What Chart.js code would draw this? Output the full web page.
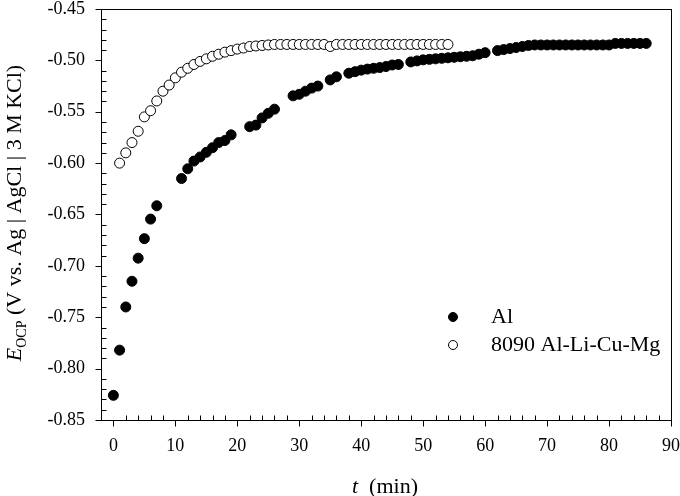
<!DOCTYPE html>
<html>
<head>
<meta charset="utf-8">
<script src="https://cdn.jsdelivr.net/npm/chart.js@4"></script>
<style>
  body { margin: 0; background: #fff; }
  #wrap { width: 680px; height: 496px; }
</style>
</head>
<body>
<div id="wrap"><canvas id="ocp" width="680" height="496"></canvas></div>
<script>
// Al (filled circles)
const alTime = [0, 1, 2, 3, 4, 5, 6, 7,
  11, 12, 13, 14, 15, 16, 17, 18, 19,
  22, 23, 24, 25, 26,
  29, 30, 31, 32, 33, 35, 36,
  38, 39, 40, 41, 42, 43, 44, 45, 46,
  48, 49, 50, 51, 52, 53, 54, 55, 56, 57, 58, 59, 60,
  62, 63, 64, 65, 66, 67, 68, 69, 70, 71, 72, 73, 74, 75, 76, 77, 78, 79, 80,
  81, 82, 83, 84, 85, 86];
const alPotential = [-0.826, -0.782, -0.740, -0.715, -0.6925, -0.6735, -0.6545, -0.6415,
  -0.615, -0.6055, -0.598, -0.594, -0.5895, -0.585, -0.580, -0.578, -0.5725,
  -0.5645, -0.563, -0.556, -0.5515, -0.5475,
  -0.5345, -0.533, -0.530, -0.527, -0.525, -0.519, -0.516,
  -0.5125, -0.511, -0.5095, -0.5085, -0.5077, -0.507, -0.506, -0.5045, -0.504,
  -0.5015, -0.5005, -0.4995, -0.499, -0.4985, -0.498, -0.4975, -0.497, -0.4965, -0.496, -0.4955, -0.494, -0.4925,
  -0.4905, -0.4895, -0.4885, -0.4875, -0.4865, -0.4855, -0.485, -0.485, -0.485, -0.485, -0.485, -0.485, -0.485, -0.485, -0.485, -0.485, -0.485, -0.485, -0.485,
  -0.4835, -0.4835, -0.4835, -0.4835, -0.4835, -0.4835];

// 8090 Al-Li-Cu-Mg (open circles)
const alloyTime = [1, 2, 3, 4, 5, 6, 7, 8, 9, 10, 11, 12, 13, 14, 15, 16, 17, 18, 19, 20,
  21, 22, 23, 24, 25, 26, 27, 28, 29, 30, 31, 32, 33, 34, 35, 36, 37, 38, 39, 40,
  41, 42, 43, 44, 45, 46, 47, 48, 49, 50, 51, 52, 53, 54];
const alloyPotential = [-0.600, -0.590, -0.580, -0.569, -0.555, -0.549, -0.5395, -0.530, -0.524, -0.517,
  -0.5115, -0.5077, -0.504, -0.501, -0.4985, -0.496, -0.494, -0.492, -0.4905, -0.489,
  -0.488, -0.4865, -0.486, -0.4855, -0.485, -0.4845, -0.4845, -0.4845, -0.4845, -0.4845,
  -0.4845, -0.4845, -0.4845, -0.4845, -0.4865, -0.4845, -0.4845, -0.4845, -0.4845, -0.4845,
  -0.4845, -0.4845, -0.4845, -0.4845, -0.4845, -0.4845, -0.4845, -0.4845, -0.4845, -0.4845,
  -0.4845, -0.4845, -0.4845, -0.4845];

const xTicks = [0, 10, 20, 30, 40, 50, 60, 70, 80, 90];
const yTicks = [-0.85, -0.80, -0.75, -0.70, -0.65, -0.60, -0.55, -0.50, -0.45];

const serif = "'Liberation Serif', 'Times New Roman', serif";

function toPoints(xs, ys) {
  return xs.map((v, i) => ({ x: v, y: ys[i] }));
}

function line(ctx, x1, y1, x2, y2) {
  ctx.beginPath();
  ctx.moveTo(x1, y1);
  ctx.lineTo(x2, y2);
  ctx.stroke();
}

// draws a run of [text, font, baseline shift] pieces starting at x
function drawRun(ctx, parts, x) {
  parts.forEach(p => {
    ctx.font = p[1];
    ctx.fillText(p[0], x, p[2]);
    x += ctx.measureText(p[0]).width;
  });
}

function runWidth(ctx, parts) {
  let w = 0;
  parts.forEach(p => { ctx.font = p[1]; w += ctx.measureText(p[0]).width; });
  return w;
}

const framePlugin = {
  id: "frame",
  afterDraw(chart) {
    const { ctx, chartArea: a, scales: { x, y } } = chart;
    ctx.save();
    ctx.strokeStyle = "#000";
    ctx.lineWidth = 1;
    ctx.strokeRect(Math.round(a.left) + 0.5, Math.round(a.top) + 0.5,
      Math.round(a.right - a.left), Math.round(a.bottom - a.top));

    const bottom = Math.round(a.bottom) + 0.5;
    const left = Math.round(a.left) + 0.5;

    // x ticks: major outside, minor inside
    for (let v = 0; v <= 90; v += 2) {
      const px = Math.round(x.getPixelForValue(v)) + 0.5;
      if (v % 10 === 0) line(ctx, px, bottom, px, bottom + 6);
      else line(ctx, px, bottom, px, bottom - 5);
    }
    // y ticks
    for (let k = 0; k <= 40; k++) {
      const v = -0.85 + k * 0.01;
      const py = Math.round(y.getPixelForValue(v)) + 0.5;
      if (k % 5 === 0) line(ctx, left, py, left - 6, py);
      else line(ctx, left, py, left + 5, py);
    }

    ctx.fillStyle = "#000";
    ctx.textBaseline = "alphabetic";

    // y title
    const big = "22px " + serif;
    const yParts = [
      ["E", "italic " + big, 0],
      ["OCP", "14px " + serif, 5],
      [" (V vs. Ag | AgCl | 3 M KCl)", big, 0]
    ];
    ctx.save();
    ctx.translate(21, 213);
    ctx.rotate(-Math.PI / 2);
    drawRun(ctx, yParts, -runWidth(ctx, yParts) / 2);
    ctx.restore();

    // x title
    const xParts = [
      ["t", "italic " + big, 0],
      ["  (min)", big, 0]
    ];
    ctx.save();
    ctx.translate(385, 493);
    drawRun(ctx, xParts, -runWidth(ctx, xParts) / 2);
    ctx.restore();

    // legend
    const items = [
      { label: "Al", fill: "#000", y: 317 },
      { label: "8090 Al-Li-Cu-Mg", fill: "#fff", y: 345 }
    ];
    items.forEach(it => {
      ctx.beginPath();
      ctx.arc(453, it.y, 4.5, 0, Math.PI * 2);
      ctx.fillStyle = it.fill;
      ctx.fill();
      ctx.stroke();
      ctx.fillStyle = "#000";
      ctx.font = "22px " + serif;
      ctx.textBaseline = "middle";
      ctx.fillText(it.label, 491, it.y);
    });
    ctx.restore();
  }
};

new Chart(document.getElementById("ocp"), {
  type: "scatter",
  data: {
    datasets: [
      {
        label: "Al",
        data: toPoints(alTime, alPotential),
        pointRadius: 5,
        pointBackgroundColor: "#000",
        pointBorderColor: "#000",
        pointBorderWidth: 1,
      },
      {
        label: "8090 Al-Li-Cu-Mg",
        data: toPoints(alloyTime, alloyPotential),
        pointRadius: 5,
        pointBackgroundColor: "#fff",
        pointBorderColor: "#000",
        pointBorderWidth: 1,
      },
    ],
  },
  options: {
    responsive: false,
    animation: false,
    layout: { padding: { left: 0, right: 8, top: 9, bottom: 0 } },
    plugins: {
      legend: { display: false },
      tooltip: { enabled: false },
    },
    scales: {
      x: {
        type: "linear",
        min: -2,
        max: 90,
        grid: { display: true, drawOnChartArea: false, color: "rgba(0,0,0,0)", tickLength: 17 },
        border: { display: false },
        afterBuildTicks: (s) => { s.ticks = xTicks.map(v => ({ value: v })); },
        afterFit: (s) => { s.height = 76; },
        ticks: {
          padding: 0,
          color: "#000",
          font: { family: serif, size: 18, lineHeight: 1 },
          maxRotation: 0,
        },
      },
      y: {
        min: -0.85,
        max: -0.45,
        grid: { display: true, drawOnChartArea: false, color: "rgba(0,0,0,0)", tickLength: 16 },
        border: { display: false },
        afterBuildTicks: (s) => { s.ticks = yTicks.map(v => ({ value: v })); },
        afterFit: (s) => { s.width = 101; },
        ticks: {
          padding: 0,
          color: "#000",
          font: { family: serif, size: 18, lineHeight: 1 },
          callback: (v) => Number(v).toFixed(2),
        },
      },
    },
  },
  plugins: [framePlugin],
});
</script>
</body>
</html>
